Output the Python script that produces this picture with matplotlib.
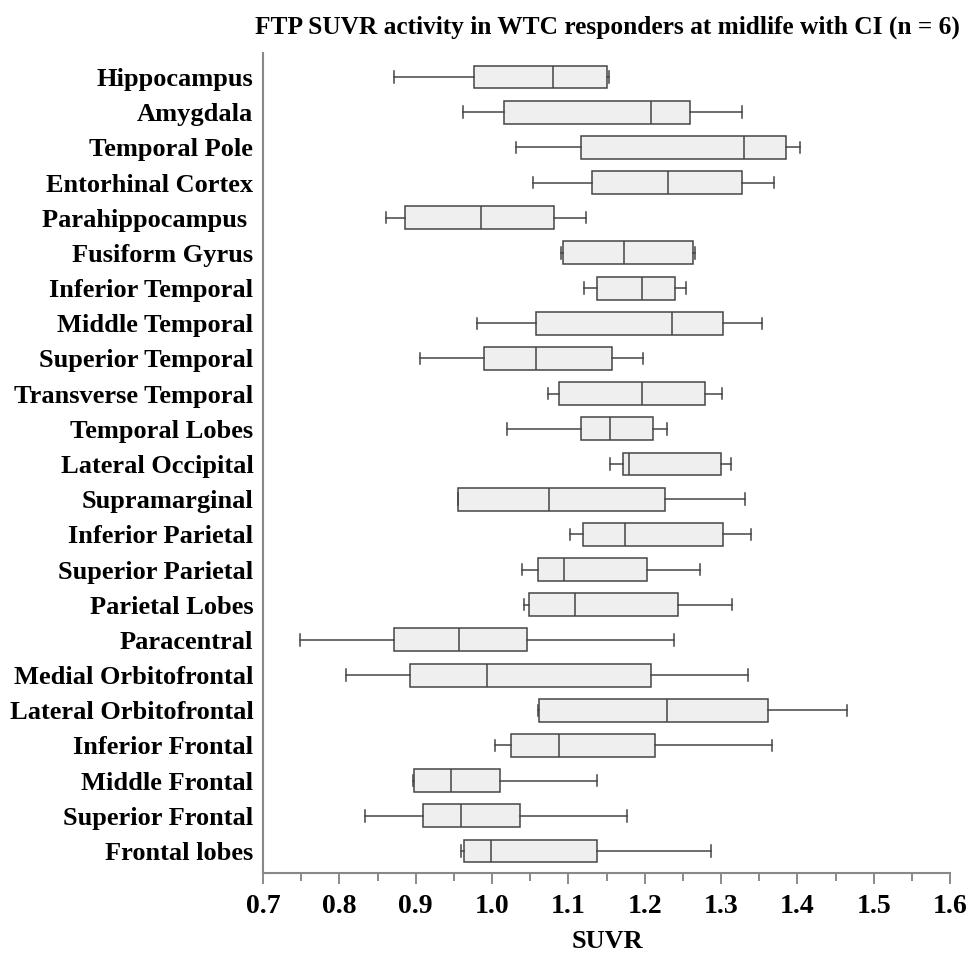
import matplotlib
matplotlib.use("Agg")
import matplotlib.pyplot as plt
from matplotlib.ticker import MultipleLocator

regions = ["Hippocampus", "Amygdala", "Temporal Pole", "Entorhinal Cortex",
           "Parahippocampus ", "Fusiform Gyrus", "Inferior Temporal",
           "Middle Temporal", "Superior Temporal", "Transverse Temporal",
           "Temporal Lobes", "Lateral Occipital", "Supramarginal",
           "Inferior Parietal", "Superior Parietal", "Parietal Lobes",
           "Paracentral", "Medial Orbitofrontal", "Lateral Orbitofrontal",
           "Inferior Frontal", "Middle Frontal", "Superior Frontal",
           "Frontal lobes"]

whislo = [0.872, 0.962, 1.032, 1.054, 0.861, 1.091, 1.121, 0.980, 0.906, 1.073,
          1.019, 1.155, 0.955, 1.102, 1.039, 1.042, 0.749, 0.809, 1.060, 1.004,
          0.897, 0.833, 0.959]
q1 = [0.976, 1.016, 1.116, 1.131, 0.886, 1.093, 1.137, 1.058, 0.990, 1.088,
      1.116, 1.171, 0.955, 1.119, 1.060, 1.048, 0.872, 0.892, 1.061, 1.025,
      0.898, 0.909, 0.963]
med = [1.080, 1.208, 1.330, 1.231, 0.986, 1.173, 1.197, 1.236, 1.058, 1.197,
       1.155, 1.180, 1.075, 1.174, 1.094, 1.109, 0.957, 0.993, 1.229, 1.088,
       0.946, 0.959, 0.999]
q3 = [1.151, 1.260, 1.385, 1.328, 1.081, 1.263, 1.240, 1.302, 1.157, 1.279,
      1.211, 1.300, 1.227, 1.303, 1.203, 1.244, 1.046, 1.208, 1.361, 1.213,
      1.010, 1.037, 1.137]
whishi = [1.153, 1.328, 1.403, 1.370, 1.123, 1.266, 1.254, 1.354, 1.198, 1.301,
          1.229, 1.313, 1.331, 1.339, 1.272, 1.314, 1.239, 1.336, 1.465, 1.367,
          1.138, 1.177, 1.287]

title = "FTP SUVR activity in WTC responders at midlife with CI (n = 6)"
xlabel = "SUVR"
xticks = [0.7, 0.8, 0.9, 1.0, 1.1, 1.2, 1.3, 1.4, 1.5, 1.6]

plt.rcParams['font.family'] = ['Liberation Serif', 'DejaVu Serif']
plt.rcParams['font.weight'] = 'bold'

fig = plt.figure(figsize=(9.68, 9.58), dpi=100)
ax = fig.add_axes([263/968, 1-873/958, (950-263)/968, (873-53)/958])

stats = []
for i, name in enumerate(regions):
    stats.append(dict(label=name, whislo=whislo[i], q1=q1[i], med=med[i],
                      q3=q3[i], whishi=whishi[i], fliers=[]))

positions = list(range(1, len(regions) + 1))
edge = "#454545"
ax.bxp(stats, positions=positions, vert=False, widths=0.65, patch_artist=True,
       showfliers=False,
       boxprops=dict(facecolor="#efefef", edgecolor=edge, linewidth=1.1),
       medianprops=dict(color=edge, linewidth=1.1),
       whiskerprops=dict(color=edge, linewidth=1.1),
       capprops=dict(color=edge, linewidth=1.1))

ax.set_ylim(23 + 22/35.18, 1 - 24/35.18)
ax.set_xlim(0.7, 1.6)
ax.set_xticks(xticks)
ax.set_xticklabels([f"{t:.1f}" for t in xticks], fontsize=20, fontweight='bold')
ax.xaxis.set_minor_locator(MultipleLocator(0.05))
ax.tick_params(axis='x', which='major', length=8, width=1.2, color="#777777", pad=7)
ax.tick_params(axis='x', which='minor', length=6, width=1.2, color="#777777")
ax.tick_params(axis='y', which='both', length=0, pad=7)
ax.set_yticks(positions)
ax.set_yticklabels(regions, fontsize=19, fontweight='bold')

for s in ['top', 'right']:
    ax.spines[s].set_visible(False)
for s in ['left', 'bottom']:
    ax.spines[s].set_color("#888888")
    ax.spines[s].set_linewidth(1.5)

fig.text(607/968, 1-27/958, title, ha='center', va='center',
         fontsize=18.3, fontweight='bold')
fig.text(607/968, 1-942/958, xlabel, ha='center', va='center',
         fontsize=19, fontweight='bold')

fig.savefig("out.png", dpi=100)
